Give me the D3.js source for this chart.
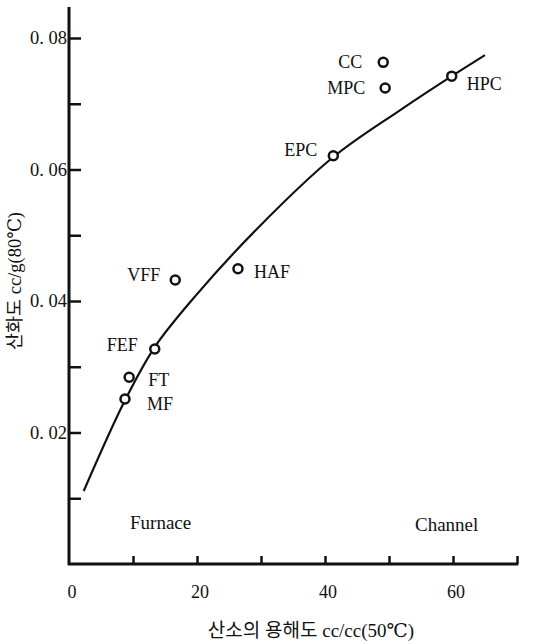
<!DOCTYPE html>
<html><head><meta charset="utf-8">
<script src="https://cdn.jsdelivr.net/npm/d3@7"></script>
<style>
html,body{margin:0;padding:0;background:#fff;}
svg{display:block;}
text{fill:#111;}
</style></head>
<body>
<svg id="chart" width="540" height="644"></svg>
<script>
// ---- data ----
const pointNames = ["CC", "MPC", "HPC", "EPC", "VFF", "HAF", "FEF", "FT", "MF"];
const pointX = [49.1, 49.4, 59.8, 41.3, 16.6, 26.4, 13.4, 9.4, 8.75];
const pointY = [0.0763, 0.0724, 0.0742, 0.0621, 0.0432, 0.0449, 0.0327, 0.0284, 0.0251];
const curveX = [2.3, 8.75, 13.4, 19.7, 29.4, 41.3, 51.7, 59.8, 65.0];
const curveY = [0.0111, 0.0249, 0.0330, 0.0407, 0.0510, 0.0619, 0.0690, 0.0742, 0.0774];
const xTickValues = [0, 10, 20, 30, 40, 50, 60, 70];
const xTickLabels = ["0", "20", "40", "60"];
const yTickValues = [0.01, 0.02, 0.03, 0.04, 0.05, 0.06, 0.07, 0.08];
const yTickLabels = ["0. 02", "0. 04", "0. 06", "0. 08"];
const regionLabels = ["Furnace", "Channel"];
const xTitle = "산소의 용해도 cc/cc(50℃)";
const yTitle = "산화도 cc/g(80℃)";

// label placement (anchor side, offsets)
const labelPos = {
  CC:  {anchor: "end",   dx: -21, dy: 0},
  MPC: {anchor: "end",   dx: -20, dy: 0},
  HPC: {anchor: "start", dx: 15,  dy: 8},
  EPC: {anchor: "end",   dx: -16, dy: -6},
  VFF: {anchor: "end",   dx: -15, dy: -5},
  HAF: {anchor: "start", dx: 16,  dy: 3},
  FEF: {anchor: "end",   dx: -17, dy: -4},
  FT:  {anchor: "start", dx: 19,  dy: 3},
  MF:  {anchor: "start", dx: 22,  dy: 5}
};

const svg = d3.select("#chart");
const serif = "'Liberation Serif','DejaVu Serif','Noto Sans CJK KR',serif";
const x = d3.scaleLinear().domain([0, 70]).range([69, 517]);
const y = d3.scaleLinear().domain([0, 0.08]).range([564, 38]);

// axes lines
svg.append("line").attr("x1", x(0)).attr("x2", x(0)).attr("y1", y(0) + 1).attr("y2", y(0.0847))
  .attr("stroke", "#111").attr("stroke-width", 3);
svg.append("line").attr("x1", x(0) - 1).attr("x2", x(70.2)).attr("y1", y(0)).attr("y2", y(0))
  .attr("stroke", "#111").attr("stroke-width", 3);

// x ticks (inward) via axis
const xAxis = d3.axisTop(x).tickValues(xTickValues.filter(v => v > 0)).tickSize(8).tickFormat("");
const gx = svg.append("g").attr("transform", `translate(0,${y(0)})`).call(xAxis);
gx.select(".domain").remove();
gx.selectAll(".tick line").attr("stroke", "#111").attr("stroke-width", 2.5);

// y ticks (inward)
const yAxis = d3.axisRight(y).tickValues(yTickValues).tickSize(12).tickFormat("");
const gy = svg.append("g").attr("transform", `translate(${x(0)},0)`).call(yAxis);
gy.select(".domain").remove();
gy.selectAll(".tick line").attr("stroke", "#111").attr("stroke-width", 2.5);

// tick labels
svg.selectAll(".xl").data(xTickLabels).enter().append("text")
  .attr("x", (d) => x(+d) + 3).attr("y", 598)
  .attr("text-anchor", "middle").attr("font-family", serif).attr("font-size", 18)
  .text(d => d);
const yLabVals = [0.02, 0.04, 0.06, 0.08];
svg.selectAll(".yl").data(yTickLabels).enter().append("text")
  .attr("x", 67).attr("y", (d, i) => y(yLabVals[i]) + 6)
  .attr("text-anchor", "end").attr("font-family", serif).attr("font-size", 18.5)
  .text(d => d);

// titles
svg.append("text").attr("x", 311).attr("y", 637).attr("text-anchor", "middle")
  .attr("font-family", serif).attr("font-size", 19).text(xTitle);
svg.append("text").attr("transform", "translate(21,281) rotate(-90)").attr("text-anchor", "middle")
  .attr("font-family", serif).attr("font-size", 18.5).text(yTitle);

// region labels
svg.append("text").attr("x", 130).attr("y", 529).attr("font-family", serif).attr("font-size", 19).text(regionLabels[0]);
svg.append("text").attr("x", 415).attr("y", 531).attr("font-family", serif).attr("font-size", 19).text(regionLabels[1]);

// curve
const curveData = curveX.map((v, i) => [v, curveY[i]]);
svg.append("path").datum(curveData)
  .attr("d", d3.line().x(d => x(d[0])).y(d => y(d[1])).curve(d3.curveCatmullRom.alpha(0.5)))
  .attr("fill", "none").attr("stroke", "#111").attr("stroke-width", 2.2);

// points
const pts = pointNames.map((n, i) => ({name: n, x: pointX[i], y: pointY[i]}));
svg.selectAll(".pt").data(pts).enter().append("circle")
  .attr("cx", d => x(d.x)).attr("cy", d => y(d.y)).attr("r", 4.5)
  .attr("fill", "#fff").attr("stroke", "#111").attr("stroke-width", 2.5);
svg.selectAll(".pl").data(pts).enter().append("text")
  .attr("x", d => x(d.x) + labelPos[d.name].dx)
  .attr("y", d => y(d.y) + labelPos[d.name].dy + 6)
  .attr("text-anchor", d => labelPos[d.name].anchor)
  .attr("font-family", serif).attr("font-size", 18)
  .text(d => d.name);
</script>
</body></html>
